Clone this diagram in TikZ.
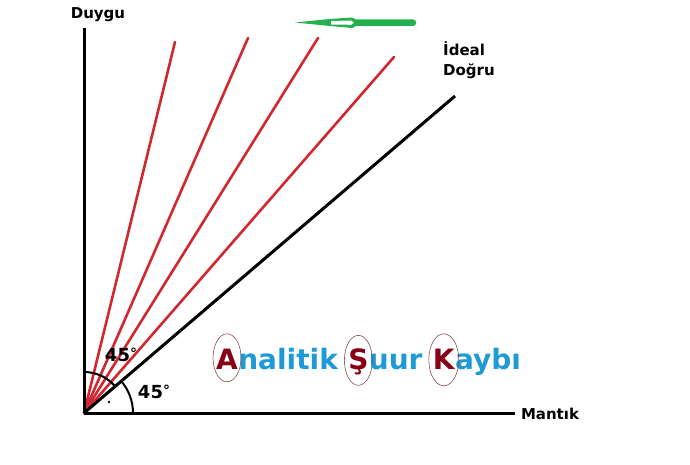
\documentclass[tikz,border=0pt]{standalone}
\usepackage{fontspec}
\setmainfont{DejaVu Sans}
\begin{document}
\begin{tikzpicture}[x=1pt,y=-1pt,
  axis/.style={line width=3pt, black},
  ray/.style={line width=2.6pt, color=redl, line cap=round},
  lbl/.style={font=\fontsize{15}{17}\selectfont\bfseries, inner sep=0pt},
  ang/.style={font=\fontsize{18}{20}\selectfont\bfseries, inner sep=0pt},
  bluew/.style={font=\fontsize{28}{30}\selectfont\bfseries, text=bluet, inner sep=0pt, anchor=base west},
  redw/.style={font=\fontsize{28}{30}\selectfont\bfseries, text=darkr, inner sep=0pt, anchor=base west},
  ring/.style={draw=ringc, line width=0.6pt}]
\definecolor{redl}{HTML}{D0282E}
\definecolor{bluet}{HTML}{1E9AD6}
\definecolor{darkr}{HTML}{880015}
\definecolor{ringc}{HTML}{8A4B4B}
\definecolor{greenp}{HTML}{22B14C}
\useasboundingbox (0,0) rectangle (690,465);
% origin and ends
\coordinate (O) at (84,413);
\coordinate (Ytop) at (84,28);
\coordinate (Xend) at (515,413);
\coordinate (I) at (455,96);
\coordinate (r1) at (175,42);
\coordinate (r2) at (248,38);
\coordinate (r3) at (318,38);
\coordinate (r4) at (394,57);
% red rays
\foreach \r in {r1,r2,r3,r4} \draw[ray] (O) -- (\r);
% axes
\draw[axis] (O) -- (Ytop);
\draw[axis] (O) -- (Xend);
\draw[axis] (O) -- (I);
% arcs
\draw[line width=2pt] (84,372) arc[start angle=-90, end angle=-42, radius=41];
\draw[line width=2pt] (133,413) arc[start angle=0, end angle=-41, radius=49];
\fill (109,402) circle (1.4);
% labels
\node[lbl] (d) at (98,15) {Duygu};
\node[lbl, align=left, anchor=north west] (id) at (443,41) {İdeal\\[3pt]Doğru};
\node[lbl] (m) at (550,414) {Mantık};
\node[ang] (a1) at (121,355) {45\raisebox{3pt}{\fontsize{14}{14}\selectfont °}};
\node[ang] (a2) at (154,392) {45\raisebox{3pt}{\fontsize{14}{14}\selectfont °}};
% green arrow
\fill[greenp] (295,22.5) -- (330,19) -- (352,17.5) -- (356,19.5) -- (413,19.5) -- (413,26) -- (356,26) -- (352,28) -- (330,26) -- cycle;
\fill[greenp] (413,22.75) circle (3.25);
\fill[white] (331,21) -- (351,20.5) -- (354,22.7) -- (351,24.8) -- (331,24.5) -- cycle;
% title text
\node[redw] (A) at (216,369) {A};
\node[bluew] (w1) at (A.base east) {nalitik};
\node[redw] (S) at ([xshift=10pt]w1.base east) {Ş};
\node[bluew] (w2) at (S.base east) {uur};
\node[redw] (K) at ([xshift=10pt]w2.base east) {K};
\node[bluew] (w3) at (K.base east) {aybı};
\draw[ring] ([yshift=1pt]A.center) ellipse (14 and 24);
\draw[ring] ([yshift=1pt]S.center) ellipse (14 and 25);
\draw[ring] ([yshift=-1pt]K.center) ellipse (15 and 26);
\end{tikzpicture}
\end{document}
